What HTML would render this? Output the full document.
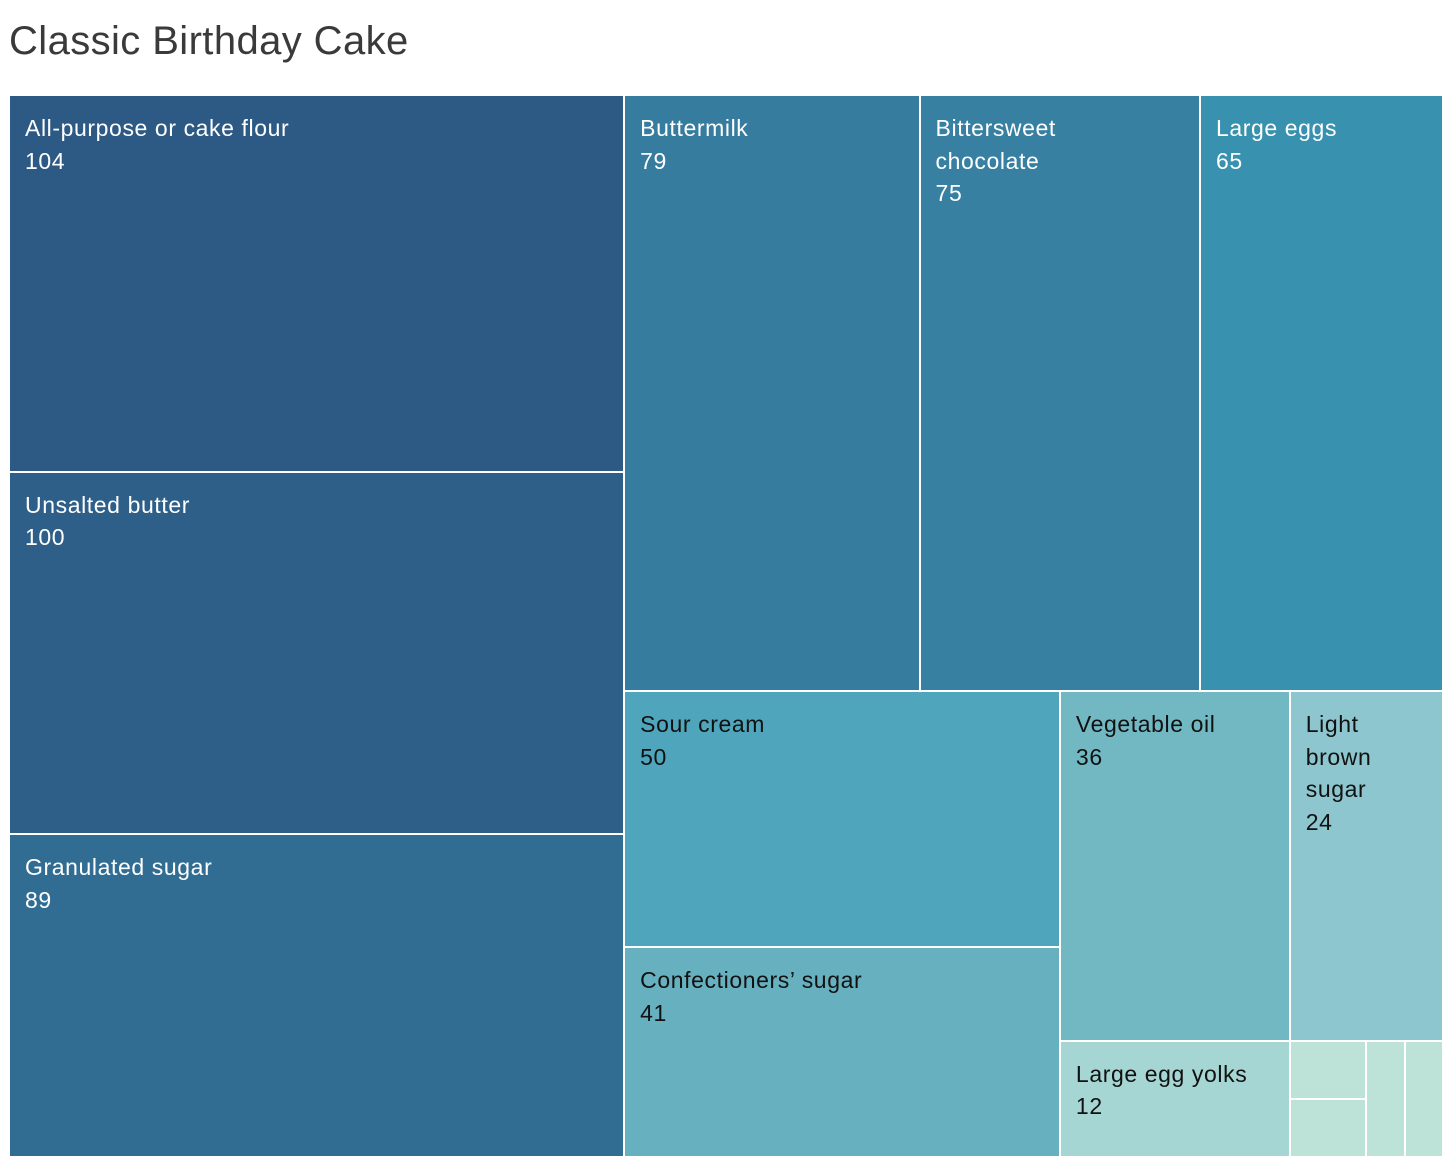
<!DOCTYPE html>
<html><head><meta charset="utf-8"><style>
body{margin:0;background:#fff;width:1452px;height:1166px;overflow:hidden;font-family:"Liberation Sans",sans-serif;}
#title{position:absolute;left:9px;top:19px;font-size:40px;color:#3a3a3a;letter-spacing:0.4px;}
#chart{position:absolute;left:0;top:0;width:1452px;height:1166px;}
.cell{position:absolute;box-sizing:border-box;}
.lbl{position:absolute;left:15px;top:16px;font-size:23px;line-height:32.5px;white-space:pre-line;letter-spacing:0.6px;}
</style></head><body>
<div id="title">Classic Birthday Cake</div>
<div id="chart"></div>
<script>
const names=["All-purpose or cake flour","Unsalted butter","Granulated sugar","Buttermilk","Bittersweet\nchocolate","Large eggs","Sour cream","Confectioners’ sugar","Vegetable oil","Light\nbrown\nsugar","Large egg yolks","Item A","Item B","Item C","Item D"];
const values=[104,100,89,79,75,65,50,41,36,24,12,2,2,2,2];
const colors=["#2d5a85","#2e5f88","#316d93","#357c9e","#3780a2","#3891ae","#4fa5bb","#67b0bf","#71b8c3","#8dc6ce","#a6d6d3","#bde3d8","#bde3d8","#bde3d8","#bde3d8"];
const groups=[3,3,2,2,1,2,2];
const X0=9,Y0=95,W=1434,H=1062;
const chart=document.getElementById('chart');
let rx=X0,ry=Y0,rw=W,rh=H,idx=0;
let remaining=values.reduce((a,b)=>a+b,0);
groups.forEach(n=>{
  const items=[];for(let k=0;k<n;k++)items.push(idx+k);
  const s=items.reduce((a,i)=>a+values[i],0);
  const vertical=rw>=rh;
  if(vertical){
    const cw=rw*s/remaining;let cy=ry;
    items.forEach(i=>{const h=rh*values[i]/s;draw(i,rx,cy,cw,h);cy+=h;});
    rx+=cw;rw-=cw;
  }else{
    const ch=rh*s/remaining;let cx=rx;
    items.forEach(i=>{const w=rw*values[i]/s;draw(i,cx,ry,w,ch);cx+=w;});
    ry+=ch;rh-=ch;
  }
  remaining-=s;idx+=n;
});
function draw(i,x,y,w,h){
  const d=document.createElement('div');
  d.className='cell';
  
  
  d.style.left=(x+1)+'px';d.style.top=(y+1)+'px';
  d.style.width=(w-2)+'px';d.style.height=(h-2)+'px';
  d.style.background=colors[i];
  if(w>100&&h>100){
    const l=document.createElement('div');
    l.className='lbl';
    
    
    l.style.color=i<6?'#fff':'#111';
    l.textContent=names[i]+'\n'+values[i];
    d.appendChild(l);
  }
  chart.appendChild(d);
}
</script>
</body></html>
